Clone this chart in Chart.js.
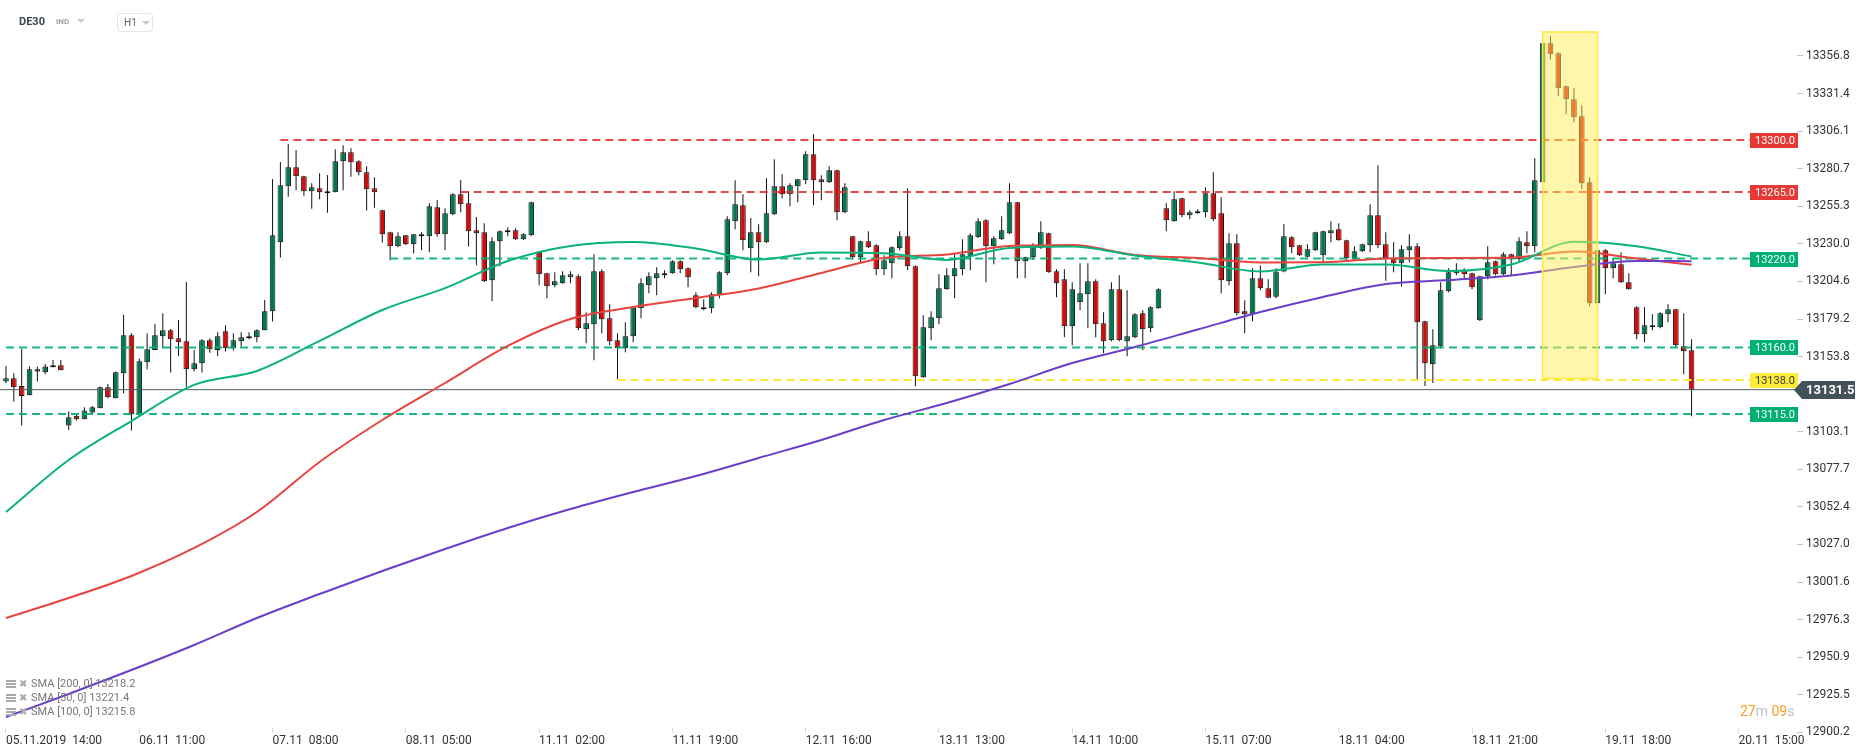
<!DOCTYPE html>
<html>
<head>
<meta charset="utf-8">
<script src="https://cdn.jsdelivr.net/npm/chart.js@4.4.0/dist/chart.umd.min.js"></script>
<style>
  body { margin: 0; background: #fff; font-family: Roboto, sans-serif; }
  #wrap { position: relative; width: 1866px; height: 756px; }
  #chart { position: absolute; left: 0; top: 0; }
  .tri { display: inline-block; width: 0; height: 0; border-left: 4px solid transparent; border-right: 4px solid transparent; border-top: 4px solid #c3cad0; }
  #sym { position: absolute; left: 19px; top: 15px; font-size: 11px; font-weight: bold; color: #3a4753; }
  #ind { position: absolute; left: 56px; top: 17px; font-size: 8px; font-weight: bold; color: #9aa6b0; }
  #symTri { position: absolute; left: 77px; top: 19px; }
  #tf { position: absolute; left: 117px; top: 13px; width: 34px; height: 17px; border: 1px solid #e3e6e9; border-radius: 3px; font-size: 10px; color: #59636c; line-height: 17px; }
  #tf span.t { position: absolute; left: 6px; }
  #tf .tri { position: absolute; left: 24px; top: 7px; }
  .leg { position: absolute; left: 6px; height: 14px; line-height: 14px; font-size: 11px; color: #777; white-space: nowrap; }
  .leg .ico { position: absolute; left: 0; top: 3px; width: 10px; height: 8px;
    background: linear-gradient(#aaa 0 2px, transparent 2px 3px, #aaa 3px 5px, transparent 5px 6px, #aaa 6px 8px); }
  .leg .x { position: absolute; left: 13px; top: 0; font-size: 10px; color: #aaa; }
  .leg .t { position: absolute; left: 25px; }
  #timer { position: absolute; left: 1740px; top: 703px; font-size: 14px; color: #b9c2c9; }
  #timer b { font-weight: normal; color: #ff9a1f; }
</style>
</head>
<body>
<div id="wrap">
  <canvas id="chart" width="1866" height="756"></canvas>
  <div id="sym">DE30</div>
  <div id="ind">IND</div>
  <div id="symTri" class="tri"></div>
  <div id="tf"><span class="t">H1</span><span class="tri"></span></div>
  <div class="leg" style="top:677px"><span class="ico"></span><span class="x">✖</span><span class="t">SMA  [200,  0]  13218.2</span></div>
  <div class="leg" style="top:691px"><span class="ico"></span><span class="x">✖</span><span class="t">SMA  [50,  0]  13221.4</span></div>
  <div class="leg" style="top:705px"><span class="ico"></span><span class="x">✖</span><span class="t">SMA  [100,  0]  13215.8</span></div>
  <div id="timer"><b>27</b>m <b>09</b>s</div>
</div>
<script>
// DE30 H1, 05.11.2019 14:00 -> 20.11.2019 09:00 (20 candles per day, 02:00-21:00)
const candleOpen = [
  13137.0,13139.2,13134.0,13127.7,13145.3,13143.3,13146.6,13148.0,13107.3,13113.8,
  13111.5,13116.0,13119.0,13133.1,13125.7,13142.6,13168.2,13114.5,13150.0,13158.3,
  13167.6,13171.6,13166.2,13164.2,13145.3,13149.3,13164.9,13158.3,13170.9,13159.5,
  13164.2,13166.2,13166.9,13171.6,13184.4,13231.0,13268.8,13281.6,13275.6,13265.4,
  13267.5,13265.4,13264.8,13285.7,13291.8,13285.7,13278.3,13267.5,13252.6,13237.8,
  13228.3,13235.7,13229.7,13235.1,13235.1,13254.6,13236.4,13249.9,13263.4,13257.3,
  13239.1,13237.8,13205.4,13231.7,13237.8,13239.1,13233.0,13235.7,13224.7,13210.1,
  13202.0,13203.3,13207.4,13208.1,13172.3,13175.7,13211.4,13179.7,13164.9,13159.5,
  13167.6,13186.5,13202.0,13206.7,13208.7,13210.1,13218.2,13213.5,13195.2,13187.1,
  13186.5,13195.2,13210.1,13245.2,13256.0,13227.0,13237.8,13231.0,13249.9,13268.8,
  13263.4,13268.8,13272.9,13290.4,13273.5,13271.5,13279.6,13251.3,13235.1,13220.9,
  13231.7,13229.0,13212.8,13216.8,13227.0,13235.1,13214.8,13139.9,13173.0,13179.7,
  13199.3,13208.1,13212.8,13221.6,13234.4,13245.9,13228.3,13233.0,13237.1,13258.0,
  13218.2,13220.9,13227.0,13237.1,13211.4,13206.0,13174.3,13190.5,13195.9,13204.7,
  13176.3,13164.9,13199.3,13164.2,13166.9,13183.1,13173.0,13186.5,13254.0,13245.2,
  13260.7,13249.2,13250.6,13251.3,13264.1,13250.6,13204.7,13230.3,13184.4,13182.4,
  13206.7,13199.9,13194.3,13211.2,13234.4,13229.0,13221.3,13225.6,13222.2,13237.1,
  13239.8,13232.4,13219.5,13224.9,13229.0,13249.2,13229.7,13220.2,13216.8,13225.6,
  13228.3,13177.7,13148.6,13160.8,13197.9,13210.1,13212.1,13210.1,13178.3,13208.0,
  13218.2,13209.4,13222.9,13219.5,13231.0,13228.3,13271.5,13365.4,13358.6,13336.4,
  13327.6,13316.1,13271.5,13189.8,13225.6,13213.5,13216.2,13204.0,13187.1,13168.9,
  13175.0,13173.6,13182.4,13185.8,13160.8,13158.1
];
const candleHigh = [
  13147.5,13142.6,13159.2,13147.1,13147.1,13148.9,13151.6,13151.6,13116.7,13114.5,
  13119.6,13120.5,13133.6,13135.4,13143.7,13182.0,13169.6,13152.5,13169.6,13175.9,
  13183.1,13172.5,13178.6,13204.2,13158.3,13165.5,13166.2,13170.3,13175.0,13169.6,
  13170.3,13170.3,13172.3,13192.1,13273.8,13285.2,13297.4,13293.3,13276.0,13270.8,
  13277.6,13276.5,13293.8,13296.5,13294.5,13286.4,13282.3,13274.9,13253.0,13238.2,
  13237.8,13236.0,13236.6,13237.8,13257.3,13259.6,13254.0,13264.1,13273.1,13265.4,
  13248.1,13243.8,13234.4,13239.1,13241.1,13240.5,13237.1,13258.3,13225.1,13210.5,
  13210.8,13211.4,13211.4,13209.4,13183.8,13222.9,13212.8,13189.2,13169.6,13177.0,
  13187.5,13206.7,13210.8,13214.1,13212.1,13218.9,13218.9,13214.1,13197.3,13192.5,
  13197.3,13211.4,13248.6,13272.9,13263.4,13247.4,13243.2,13274.2,13287.0,13276.9,
  13270.8,13273.8,13292.4,13303.9,13276.2,13282.3,13280.0,13270.8,13235.5,13232.0,
  13238.4,13229.7,13222.2,13228.3,13238.4,13267.5,13215.5,13181.7,13184.4,13209.4,
  13213.5,13223.6,13233.0,13237.1,13247.2,13246.5,13235.1,13248.6,13270.8,13258.4,
  13221.3,13230.3,13245.2,13237.5,13212.8,13212.8,13204.0,13216.8,13216.8,13206.0,
  13183.8,13204.0,13208.7,13198.6,13183.1,13185.1,13187.8,13200.0,13257.3,13265.4,
  13261.1,13252.6,13253.3,13268.1,13278.3,13261.4,13237.1,13236.4,13191.9,13213.5,
  13215.3,13206.0,13213.5,13243.4,13235.1,13229.4,13229.7,13238.2,13238.8,13245.2,
  13243.8,13232.8,13228.3,13230.1,13256.7,13283.0,13237.8,13231.0,13229.0,13236.4,
  13230.3,13178.1,13172.3,13204.0,13213.5,13216.8,13213.5,13210.5,13208.4,13228.3,
  13218.6,13224.2,13223.3,13234.4,13238.4,13287.7,13365.6,13370.3,13359.3,13336.8,
  13335.0,13323.5,13274.9,13246.5,13226.3,13220.2,13224.2,13210.1,13187.8,13187.1,
  13182.4,13183.7,13189.1,13186.2,13183.1,13165.5
];
const candleLow = [
  13135.8,13123.5,13107.3,13127.7,13137.0,13141.9,13146.6,13144.6,13104.3,13110.6,
  13111.5,13114.5,13119.0,13125.7,13125.7,13129.1,13103.9,13113.3,13145.3,13158.3,
  13159.5,13143.1,13154.3,13133.1,13143.7,13143.1,13156.5,13154.3,13157.2,13157.9,
  13160.6,13165.5,13163.5,13171.6,13177.5,13220.7,13261.8,13266.1,13262.5,13253.7,
  13260.0,13251.0,13264.8,13266.1,13275.3,13276.2,13252.4,13254.4,13230.8,13218.9,
  13227.6,13229.2,13223.4,13225.6,13224.3,13234.8,13225.6,13249.2,13251.3,13228.1,
  13215.5,13204.2,13191.2,13214.8,13235.1,13232.6,13232.6,13235.3,13202.0,13193.2,
  13200.6,13203.0,13203.3,13171.6,13162.8,13151.4,13169.6,13161.5,13138.5,13156.8,
  13163.5,13179.7,13196.6,13195.2,13206.7,13209.7,13210.1,13200.6,13186.5,13185.1,
  13183.1,13193.2,13208.7,13239.8,13225.6,13210.8,13208.1,13230.6,13249.5,13260.7,
  13255.3,13258.0,13270.2,13256.0,13259.4,13271.1,13245.9,13250.6,13219.5,13217.5,
  13227.2,13208.7,13208.7,13206.7,13225.6,13212.1,13133.8,13139.5,13164.9,13175.7,
  13198.9,13193.2,13208.7,13212.1,13234.0,13204.0,13216.2,13232.6,13236.4,13206.7,
  13206.7,13219.1,13226.6,13210.4,13193.9,13166.9,13161.5,13185.1,13173.0,13166.9,
  13156.1,13164.2,13164.2,13154.1,13166.2,13158.1,13170.3,13186.1,13238.4,13244.8,
  13247.9,13246.5,13250.2,13247.9,13245.2,13196.6,13202.0,13181.7,13169.6,13177.7,
  13198.6,13193.2,13193.2,13210.8,13223.6,13221.8,13220.9,13225.2,13217.5,13231.0,
  13232.0,13218.9,13218.9,13224.5,13224.2,13226.9,13205.1,13210.7,13201.1,13217.5,
  13138.7,13134.0,13136.0,13159.4,13197.2,13208.7,13206.7,13199.3,13177.9,13206.0,
  13208.7,13208.7,13208.7,13217.5,13223.6,13224.2,13271.1,13354.6,13329.6,13317.5,
  13312.0,13266.8,13187.8,13184.4,13195.9,13206.7,13203.6,13198.9,13165.5,13163.5,
  13171.6,13172.9,13177.0,13160.1,13141.9,13113.5
];
const candleClose = [
  13139.2,13133.1,13127.3,13145.3,13143.7,13147.1,13148.0,13144.6,13112.9,13111.5,
  13117.4,13119.6,13133.1,13126.4,13143.3,13168.2,13114.9,13150.7,13158.8,13168.2,
  13171.6,13165.5,13163.5,13145.3,13149.3,13164.9,13158.8,13167.6,13159.5,13164.9,
  13166.9,13167.6,13171.6,13184.4,13235.7,13269.5,13281.6,13275.6,13265.4,13268.1,
  13264.8,13264.1,13285.7,13291.8,13285.0,13278.3,13266.8,13264.8,13236.4,13228.3,
  13235.1,13229.7,13236.4,13236.4,13255.3,13236.4,13250.6,13263.4,13256.7,13238.4,
  13237.1,13204.7,13231.7,13238.4,13239.1,13233.0,13236.4,13258.0,13209.4,13201.3,
  13204.7,13208.7,13209.4,13173.0,13176.3,13211.4,13179.0,13164.2,13159.5,13167.6,
  13187.1,13203.3,13208.1,13210.1,13210.1,13218.2,13212.8,13207.4,13187.1,13185.8,
  13195.9,13210.8,13246.5,13256.7,13232.4,13237.8,13231.0,13250.6,13268.8,13263.4,
  13269.5,13273.5,13290.4,13272.9,13271.5,13279.6,13251.3,13268.1,13220.9,13231.7,
  13227.6,13212.8,13218.9,13227.6,13235.1,13214.8,13140.6,13173.6,13180.4,13200.0,
  13208.7,13213.5,13222.9,13235.7,13245.2,13228.3,13233.7,13239.1,13258.0,13218.2,
  13220.9,13228.1,13237.8,13210.8,13203.3,13174.3,13199.3,13196.6,13204.7,13175.7,
  13164.2,13199.3,13164.9,13167.6,13182.4,13172.3,13187.1,13199.3,13245.9,13260.0,
  13249.2,13251.3,13251.9,13264.1,13246.5,13205.4,13230.3,13183.1,13182.4,13206.7,
  13200.0,13193.6,13211.2,13235.1,13227.6,13222.2,13226.3,13237.8,13238.4,13239.1,
  13232.4,13220.2,13224.9,13229.7,13249.2,13229.0,13220.2,13216.8,13226.3,13228.3,
  13177.0,13149.3,13161.5,13198.6,13210.7,13212.1,13209.4,13200.6,13208.0,13217.5,
  13209.4,13222.9,13219.5,13231.7,13228.3,13272.9,13365.4,13358.0,13335.0,13327.6,
  13315.4,13270.8,13189.8,13225.6,13213.5,13216.8,13204.0,13199.3,13168.9,13175.0,
  13173.6,13183.1,13185.8,13161.5,13157.4,13131.5
];

// moving averages, read every 8th candle
const maIdx = [0,8,16,24,32,40,48,56,64,72,80,88,96,104,112,120,128,136,144,152,160,168,176,184,192,200,208,215];
const sma50 = [13048.9,13084.0,13110.3,13134.7,13144.1,13164.4,13185.3,13200.1,13218.4,13228.5,13231.2,13226.8,13219.4,13224.1,
               13223.6,13219.1,13227.2,13228.2,13222.1,13217.4,13211.3,13216.0,13216.0,13211.6,13216.0,13231.3,13228.3,13221.4];
const sma100 = [12977.3,12990.8,13005.7,13024.6,13048.9,13082.7,13111.0,13136.0,13161.0,13179.2,13187.3,13193.4,13199.8,13210.3,
                13220.4,13222.8,13228.5,13229.2,13222.4,13220.4,13217.4,13217.5,13220.1,13220.4,13220.6,13224.8,13220.1,13215.8];
const sma200 = [12910.5,12926.0,12942.2,12959.1,12977.3,12993.5,13009.1,13023.9,13038.1,13050.9,13062.4,13073.2,13085.4,13097.5,
                13111.0,13122.5,13135.3,13149.5,13160.3,13172.1,13183.9,13194.1,13202.8,13205.5,13208.6,13214.3,13218.4,13218.2];

// horizontal levels drawn by the user
const levelPrices = [13300.0, 13265.0, 13220.0, 13160.0, 13138.0, 13115.0];
const levelFrom   = [35, 58, 49, 0, 78, 0];
const levelKind   = ['red', 'red', 'green', 'green', 'yellow', 'green'];
const lastPrice = 13131.5;

// highlighted zone
const zoneFrom = 196, zoneTo = 203;
const zoneTop = 13373.0, zoneBottom = 13139.0;

// axes
const xTickLabels = ['05.11.2019  14:00', '06.11  11:00', '07.11  08:00', '08.11  05:00', '11.11  02:00',
  '11.11  19:00', '12.11  16:00', '13.11  13:00', '14.11  10:00', '15.11  07:00', '18.11  04:00',
  '18.11  21:00', '19.11  18:00', '20.11  15:00'];
const X_TICK_STEP = 17;
const yTickValues = [12900.2, 12925.5, 12950.9, 12976.3, 13001.6, 13027.0, 13052.4, 13077.7, 13103.1,
  13153.8, 13179.2, 13204.6, 13230.0, 13255.3, 13280.7, 13306.1, 13331.4, 13356.8];

const X_MIN = -0.765, X_MAX = 228.45;
const Y_MIN = 12903.05, Y_MAX = 13394.6;
const LEVEL_END = 222.45;

const UP = '#00784d';
const DOWN = '#d40b0b';
const lineColor = { red: 'rgba(232, 52, 48, 0.9)', green: 'rgba(0, 176, 116, 0.9)', yellow: '#ffe936' };
const tagColor = { red: '#e53935', green: '#00b073', yellow: '#ffeb3b' };

Chart.defaults.font.family = 'Roboto';

const idx = candleOpen.map((_, i) => i);
const bodies = idx.map(i => ({ x: i, y: [candleOpen[i], candleClose[i]] }));
const wicks = idx.map(i => ({ x: i, y: [candleLow[i], candleHigh[i]] }));
const bodyColors = idx.map(i => candleClose[i] >= candleOpen[i] ? UP : DOWN);

const maLine = (vals, color) => ({
  type: 'line',
  data: maIdx.map((x, i) => ({ x: x, y: vals[i] })),
  borderColor: color,
  borderWidth: 2,
  pointRadius: 0,
  cubicInterpolationMode: 'monotone',
  order: 1
});

const levelSets = levelPrices.map((p, i) => ({
  type: 'line',
  data: [{ x: levelFrom[i], y: p }, { x: LEVEL_END, y: p }],
  borderColor: lineColor[levelKind[i]],
  borderWidth: 2,
  borderDash: [8, 5],
  pointRadius: 0,
  order: 2
}));

// price tags on the right edge + last price marker
const tagsPlugin = {
  id: 'tags',
  afterDraw(chart) {
    const { ctx, chartArea } = chart;
    const xs = chart.scales.x, ys = chart.scales.y;
    const left = xs.getPixelForValue(LEVEL_END);
    ctx.save();
    ctx.textBaseline = 'middle';
    ctx.font = '11px Roboto';
    levelPrices.forEach((p, i) => {
      const py = Math.round(ys.getPixelForValue(p));
      ctx.fillStyle = tagColor[levelKind[i]];
      ctx.fillRect(left, py - 7, chartArea.right - left + 1, 15);
      ctx.fillStyle = levelKind[i] === 'yellow' ? '#3a3a3a' : '#fff';
      ctx.fillText(p.toFixed(1), left + 5, py + 1);
    });
    const py = Math.round(ys.getPixelForValue(lastPrice));
    const x0 = chartArea.right - 3;
    ctx.fillStyle = '#435259';
    ctx.beginPath();
    ctx.moveTo(x0, py);
    ctx.lineTo(x0 + 8, py - 9);
    ctx.lineTo(1855, py - 9);
    ctx.lineTo(1855, py + 9);
    ctx.lineTo(x0 + 8, py + 9);
    ctx.closePath();
    ctx.fill();
    ctx.fillStyle = '#fff';
    ctx.font = 'bold 13px Roboto';
    ctx.fillText(lastPrice.toFixed(1), 1806, py + 1);
    ctx.restore();
  }
};

new Chart(document.getElementById('chart'), {
  data: {
    datasets: [
      {
        type: 'line',
        data: [
          { x: zoneFrom, y: zoneBottom }, { x: zoneFrom, y: zoneTop },
          { x: zoneTo, y: zoneTop }, { x: zoneTo, y: zoneBottom }, { x: zoneFrom, y: zoneBottom }
        ],
        borderColor: '#ffe83c',
        borderWidth: 1.5,
        backgroundColor: 'rgba(255, 238, 90, 0.5)',
        fill: 'shape',
        pointRadius: 0,
        tension: 0,
        order: 0
      },
      maLine(sma200, '#6a3ec9'),
      maLine(sma50, '#0ab37c'),
      maLine(sma100, '#e8433e'),
      ...levelSets,
      {
        type: 'line',
        data: [{ x: X_MIN, y: lastPrice }, { x: X_MAX, y: lastPrice }],
        borderColor: '#4d5962',
        borderWidth: 1,
        pointRadius: 0,
        order: 3
      },
      {
        type: 'bar',
        data: bodies,
        backgroundColor: bodyColors,
        borderColor: '#111',
        borderWidth: 1,
        borderSkipped: false,
        maxBarThickness: 6,
        minBarLength: 1,
        grouped: false,
        order: 4
      },
      {
        type: 'bar',
        data: wicks,
        backgroundColor: '#111',
        borderWidth: 0,
        maxBarThickness: 1,
        grouped: false,
        order: 5
      }
    ]
  },
  options: {
    responsive: false,
    animation: false,
    events: [],
    layout: { padding: 0 },
    plugins: { legend: { display: false }, tooltip: { enabled: false } },
    scales: {
      x: {
        type: 'linear',
        offset: false,
        min: X_MIN,
        max: X_MAX,
        border: { display: false },
        grid: { offset: false, drawOnChartArea: false, drawTicks: true, tickLength: 5, color: '#d5dadd' },
        afterBuildTicks: axis => { axis.ticks = xTickLabels.map((_, i) => ({ value: i * X_TICK_STEP })); },
        afterFit: axis => { axis.height = 28; axis.paddingLeft = 0; axis.paddingRight = 0; },
        ticks: {
          autoSkip: false,
          maxRotation: 0,
          align: 'start',
          padding: 1,
          color: '#333',
          font: { size: 12 },
          callback: (v, i) => xTickLabels[i]
        }
      },
      y: {
        position: 'right',
        min: Y_MIN,
        max: Y_MAX,
        border: { display: false },
        grid: { drawOnChartArea: false, drawTicks: true, tickLength: 6, color: '#b9c4ca' },
        afterBuildTicks: axis => { axis.ticks = yTickValues.map(v => ({ value: v })); },
        afterFit: axis => { axis.width = 69; axis.paddingTop = 0; axis.paddingBottom = 0; },
        ticks: {
          padding: 3,
          color: '#333',
          font: { size: 12 },
          callback: v => v.toFixed(1)
        }
      }
    }
  },
  plugins: [tagsPlugin]
});
</script>
</body>
</html>
